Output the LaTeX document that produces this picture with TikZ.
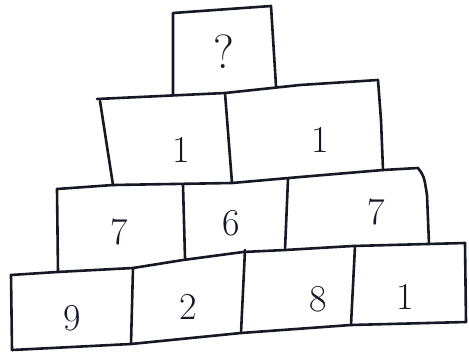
\documentclass[tikz,border=0pt]{standalone}
\usepackage{fontspec}
\begin{document}
\begin{tikzpicture}[x=1pt,y=-1pt,
  pen/.style={line width=2.6pt, draw={rgb,255:red,22;green,24;blue,38}, line join=round, line cap=round},
  num/.style={font=\fontsize{38}{38}\selectfont, text={rgb,255:red,22;green,24;blue,38}, inner sep=0pt}]
\useasboundingbox[fill=white] (0,0) rectangle (469,354);
% top box
\draw[pen] (173,94) -- (173,13) -- (271,6) -- (276,86);
% row 2
\draw[pen] (97,99) -- (225,93) -- (300,85) -- (378,80);
\draw[pen] (100,101) -- (113,185);
\draw[pen] (225,93) -- (232,183);
\draw[pen] (378,80) -- (381,120) -- (383,170);
\draw[pen] (113,185) -- (232,183) -- (300,177) -- (383,170);
% row 3
\draw[pen] (57,189) -- (113,185);
\draw[pen] (57,189) -- (58,272);
\draw[pen] (183,185) -- (185,258);
\draw[pen] (288,179) -- (285,250);
\draw[pen] (383,170) -- (418,168) .. controls (424,176) .. (427,195) -- (429,244);
% row 4
\draw[pen] (11,275) -- (57,272) -- (133,268) -- (183,260) -- (243,252) -- (285,250) -- (353,246) -- (465,243);
\draw[pen] (11,275) -- (12,350);
\draw[pen] (133,268) -- (131,344);
\draw[pen] (245,250) -- (241,333);
\draw[pen] (355,246) -- (351,325);
\draw[pen] (465,243) -- (466,322);
\draw[pen] (12,350) -- (131,344) -- (241,333) -- (351,325) -- (466,322);
% labels
\node[num, font=\fontsize{48}{48}\selectfont] (q) at (224,52) {?};
\node[num] (a1) at (181,150) {1};
\node[num] (a2) at (320,140) {1};
\node[num] (b1) at (119,232) {7};
\node[num] (b2) at (231,223) {6};
\node[num] (b3) at (376,212) {7};
\node[num] (c1) at (72,318) {9};
\node[num] (c2) at (188,307) {2};
\node[num] (c3) at (318,299) {8};
\node[num] (c4) at (405,297) {1};
\end{tikzpicture}
\end{document}
